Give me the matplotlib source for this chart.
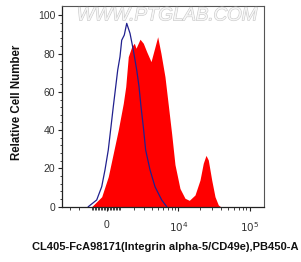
import numpy as np
import matplotlib
matplotlib.use('Agg')
import matplotlib.pyplot as plt
import matplotlib.patheffects as pe

plt.rcParams['font.family'] = ['Liberation Sans', 'DejaVu Sans']

#%% data, x in biexponential display units (0 -> 0, 10^4 -> 1, 10^5 -> 2)
ctrl_x = [-0.257, -0.140, -0.070, -0.024, 0.022, 0.060, 0.092, 0.126, 0.154, 0.186,
          0.210, 0.246, 0.280, 0.326, 0.372, 0.420, 0.452, 0.480, 0.512, 0.545,
          0.606, 0.676, 0.769, 0.839]
ctrl_y = [0.0, 3.5, 10.4, 19.2, 29.6, 41.8, 52.2, 62.7, 71.4, 78.4,
          87.0, 89.7, 95.8, 90.6, 81.9, 71.4, 62.7, 52.2, 41.8, 29.6,
          19.2, 10.4, 3.5, 0.0]

samp_x = [-0.210, -0.070, 0.022, 0.092, 0.162, 0.232, 0.266, 0.302, 0.350, 0.386,
          0.410, 0.466, 0.512, 0.559, 0.620, 0.676, 0.713, 0.759, 0.815, 0.862,
          0.909, 0.955, 1.025, 1.095, 1.155, 1.235, 1.305, 1.351, 1.389, 1.421,
          1.469, 1.515, 1.561, 1.594]
samp_y = [0.0, 5.2, 15.7, 27.9, 40.1, 54.0, 62.7, 78.4, 83.6, 85.4,
          82.8, 87.5, 85.4, 81.0, 75.8, 83.6, 88.8, 80.1, 67.9, 53.0,
          38.0, 22.0, 9.5, 4.4, 3.3, 6.1, 13.9, 22.7, 26.8, 24.4,
          13.9, 5.2, 0.9, 0.0]

xtick_vals = [0, 1e4, 1e5]
xtick_labels = ['0', '$10^4$', '$10^5$']
xlabel = 'CL405-FcA98171(Integrin alpha-5/CD49e),PB450-A'
ylabel = 'Relative Cell Number'

#%%
def biex(v):
    return np.arcsinh(np.asarray(v, dtype=float) / 2000.0) / np.log(10)

minor_vals = np.r_[-3000, -2000, -1000, np.arange(-900, 0, 100), np.arange(100, 1000, 100),
                   np.arange(2000, 10000, 1000), np.arange(20000, 100000, 10000)]

fig = plt.figure(figsize=(3.01, 2.62), dpi=100)
ax = fig.add_axes([0.207, 0.209, 0.670, 0.769])

ax.fill_between(samp_x, samp_y, 0, color='#ff0000', lw=0)
ax.plot(ctrl_x, ctrl_y, color='#20208f', lw=0.9)

ax.set_xlim(-0.621, 2.2)
ax.set_ylim(-0.3, 105)

ax.set_xticks(biex(xtick_vals))
ax.set_xticklabels(xtick_labels)
ax.set_xticks(biex(minor_vals), minor=True)
ax.set_yticks(np.arange(0, 101, 20))
ax.set_yticks(np.arange(0, 101, 4), minor=True)

ax.tick_params(axis='both', which='major', direction='out', length=3, width=0.8,
               labelsize=7.5, labelcolor='#333333', color='#222222', pad=2)
ax.tick_params(axis='both', which='minor', direction='out', length=1.8, width=0.6,
               color='#222222')
ax.tick_params(axis='x', which='major', pad=6)

for s in ['left', 'bottom']:
    ax.spines[s].set_color('#222222')
    ax.spines[s].set_linewidth(0.9)
for s in ['top', 'right']:
    ax.spines[s].set_color('#555555')
    ax.spines[s].set_linewidth(0.8)

wm = ax.text(0.52, 0.95, 'WWW.PTGLAB.COM', transform=ax.transAxes, ha='center', va='center',
             fontsize=13.5, color='#f6f6f6', style='italic')
wm.set_path_effects([pe.Stroke(linewidth=0.8, foreground='#c8c8c8'), pe.Normal()])

fig.text(0.55, 0.057, xlabel, ha='center', va='center', fontsize=8, fontweight='bold',
         color='#111111')
fig.text(0.058, 0.61, ylabel, ha='center', va='center', rotation=90, fontsize=8.3,
         fontweight='bold', color='#111111')

fig.savefig('out.png', dpi=100)
